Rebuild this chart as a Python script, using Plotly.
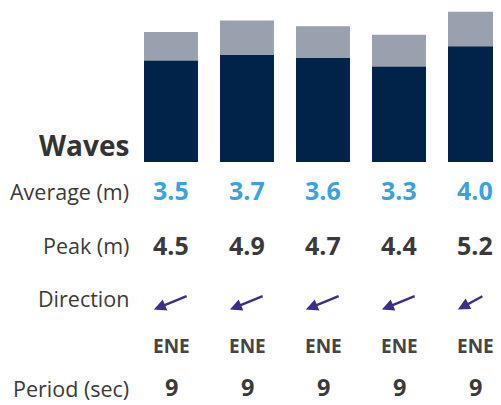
import math
import plotly.graph_objects as go

# ---- data ----
days = [0, 1, 2, 3, 4]
avg_height = [3.5, 3.7, 3.6, 3.3, 4.0]
peak_height = [4.5, 4.9, 4.7, 4.4, 5.2]
direction_label = ["ENE", "ENE", "ENE", "ENE", "ENE"]
direction_deg = [67.5, 67.5, 67.5, 67.5, 67.5]
period_sec = [9, 9, 9, 9, 9]
row_labels = ["Average (m)", "Peak (m)", "Direction", "Period (sec)"]
title = "Waves"

OFF = 8  # page body margin
W, H = 501 - OFF, 405 - OFF
FONT = "Open Sans"
NAVY = "#01234a"
GREY = "#98a1ad"
BLUE = "#3ba2e0"
TXT = "#3a3a3a"

def py(px):
    return 1 - (px - OFF) / H

def pxx(px):
    return (px - OFF) / W

fig = go.Figure()
fig.add_trace(go.Bar(x=days, y=peak_height, marker=dict(color=GREY, line=dict(width=0)),
                     width=0.71, hoverinfo="skip"))
fig.add_trace(go.Bar(x=days, y=avg_height, marker=dict(color=NAVY, line=dict(width=0)),
                     width=0.71, hoverinfo="skip"))

ann = []
ann.append(dict(text=f"<b>{title}</b>", xref="paper", yref="paper", x=pxx(131), y=py(145),
                xanchor="right", yanchor="middle", showarrow=False,
                font=dict(family=FONT, size=28, color="#333333")))
label_y = [191, 245, 298]
for lab, yy in zip(row_labels[:3], label_y):
    ann.append(dict(text=lab, xref="paper", yref="paper", x=pxx(131), y=py(yy),
                    xanchor="right", yanchor="middle", showarrow=False,
                    font=dict(family=FONT, size=21.5, color=TXT)))
# bottom row sits on the page's bottom edge
ann.append(dict(text=row_labels[3], xref="paper", yref="paper", x=pxx(131), y=0,
                xanchor="right", yanchor="bottom", showarrow=False,
                font=dict(family=FONT, size=21.5, color=TXT)))

for i in range(len(days)):
    ann.append(dict(text=f"<b>{avg_height[i]:.1f}</b>", xref="x", yref="paper", x=days[i], y=py(190),
                    xanchor="center", yanchor="middle", showarrow=False,
                    font=dict(family=FONT, size=25, color=BLUE)))
    ann.append(dict(text=f"<b>{peak_height[i]:.1f}</b>", xref="x", yref="paper", x=days[i], y=py(245),
                    xanchor="center", yanchor="middle", showarrow=False,
                    font=dict(family=FONT, size=25, color=TXT)))
    ann.append(dict(text=f"<b>{direction_label[i]}</b>", xref="x", yref="paper", x=days[i], y=py(346),
                    xanchor="center", yanchor="middle", showarrow=False,
                    font=dict(family=FONT, size=19, color="#454545")))
    ann.append(dict(text=f"<b>{period_sec[i]}</b>", xref="x", yref="paper", x=days[i], y=0,
                    xanchor="center", yanchor="bottom", showarrow=False,
                    font=dict(family=FONT, size=23.5, color=TXT)))
    L = 37
    to = math.radians(direction_deg[i] + 180)
    dx = math.sin(to) * L
    dy = -math.cos(to) * L
    ann.append(dict(text="", xref="x", yref="paper", x=days[i], y=py(302.5),
                    xshift=dx / 2, yshift=-dy / 2,
                    ax=-dx, ay=-dy, axref="pixel", ayref="pixel",
                    showarrow=True, arrowhead=2, arrowsize=1, arrowwidth=2.4,
                    arrowcolor="#3a2f8a", standoff=0))

px_per_x = 76
cx0 = 171 - OFF
x0 = (0 - cx0) / px_per_x
x1 = (W - cx0) / px_per_x
base = 162 - OFF
fig.update_layout(
    width=W, height=H, margin=dict(l=0, r=0, t=0, b=0),
    paper_bgcolor="white", plot_bgcolor="white",
    barmode="overlay", showlegend=False,
    xaxis=dict(range=[x0, x1], visible=False, fixedrange=True),
    yaxis=dict(domain=[1 - base / H, 1], range=[0, base / 28.9], visible=False, fixedrange=True),
    annotations=ann,
)
fig.write_html("out.html", config={"displayModeBar": False})
